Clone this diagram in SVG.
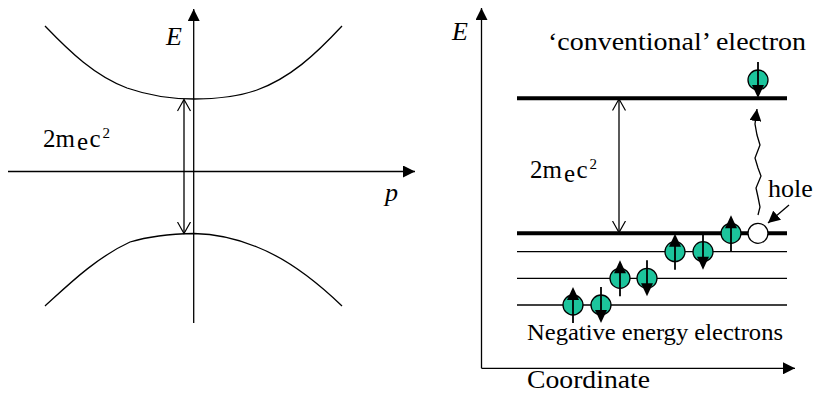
<svg xmlns="http://www.w3.org/2000/svg" xmlns:xlink="http://www.w3.org/1999/xlink" width="817" height="396" viewBox="0 0 817 396">
<style>
  .ln { stroke: #000; fill: none; stroke-width: 1.3; }
  .thick { stroke: #000; stroke-width: 4; }
  .thin { stroke: #000; stroke-width: 1.3; }
  text { font-family: 'Liberation Serif', 'DejaVu Serif', serif; fill: #000; }
  .it { font-style: italic; }
  .el { fill: #1cc49c; stroke: #000; stroke-width: 1.3; }
</style>
<defs>
  <marker id="tri" viewBox="0 0 12 12" refX="12" refY="6" markerWidth="12" markerHeight="12" markerUnits="userSpaceOnUse" orient="auto">
    <path d="M0,0 L12,6 L0,12 z" fill="#000"/>
  </marker>
  <marker id="vee" viewBox="0 0 13 15" refX="12" refY="7.5" markerWidth="13" markerHeight="15" markerUnits="userSpaceOnUse" orient="auto-start-reverse">
    <path d="M0.5,1 L12,7.5 L0.5,14" fill="none" stroke="#000" stroke-width="1.2"/>
  </marker>
  <g id="eUp">
    <circle class="el" r="10"/>
    <line x1="0" y1="-8" x2="0" y2="18" stroke="#000" stroke-width="1.8"/>
    <polygon points="0,-18 -6,-5 6,-5" fill="#000"/>
  </g>
  <g id="eDown">
    <circle class="el" r="10"/>
    <line x1="0" y1="-18" x2="0" y2="8" stroke="#000" stroke-width="1.8"/>
    <polygon points="0,18 -6,5 6,5" fill="#000"/>
  </g>
</defs>

<!-- LEFT PANEL -->
<g id="left-axes">
  <line class="ln" x1="193.7" y1="323" x2="193.7" y2="9" marker-end="url(#tri)"/>
  <line class="ln" x1="8" y1="171.5" x2="415" y2="171.5" marker-end="url(#tri)"/>
</g>
<g id="left-curves">
  <path class="ln" d="M45,26 C70,52 95,76 127,88 C150,96 170,99 194,99 C218,99 240,96 257,90 C290,78 315,55 342,26"/>
  <path class="ln" d="M45,306 C65,288 95,258 130,242 C150,236 170,234 194,233.5 C220,234 240,240 257,247 C285,258 315,280 342,306"/>
</g>
<g id="left-connectors">
  <line class="ln" x1="184" y1="99.5" x2="184" y2="233.5" marker-start="url(#vee)" marker-end="url(#vee)"/>
</g>
<g id="left-labels">
  <text class="it" x="166" y="45" font-size="26" font-family="Liberation Serif, serif">E</text>
  <text class="it" x="385" y="201" font-size="26" font-family="Liberation Serif, serif">p</text>
  <text font-size="25" font-family="Liberation Serif, serif"><tspan x="43" y="146.7">2m</tspan><tspan x="77" y="150.2">e</tspan><tspan x="89.5" y="146.7">c</tspan><tspan x="102.5" y="137.8" font-size="15">2</tspan></text>
</g>

<!-- RIGHT PANEL -->
<g id="right-axes">
  <line class="ln" x1="481.5" y1="368.3" x2="481.5" y2="8" marker-end="url(#tri)"/>
  <line class="ln" x1="481.5" y1="368.3" x2="795" y2="368.3" marker-end="url(#tri)"/>
</g>
<g id="levels">
  <line class="thick" x1="517" y1="98.3" x2="787" y2="98.3"/>
  <line class="thick" x1="517" y1="233.3" x2="787" y2="233.3"/>
  <line class="thin" x1="517" y1="251.7" x2="787" y2="251.7"/>
  <line class="thin" x1="517" y1="278.3" x2="787" y2="278.3"/>
  <line class="thin" x1="517" y1="305" x2="787" y2="305"/>
</g>
<g id="right-connectors">
  <line class="ln" x1="619" y1="99" x2="619" y2="232.5" marker-start="url(#vee)" marker-end="url(#vee)"/>
  <polyline class="ln" points="758,215 760,207 758,197 756,188 761,176 758,168 755,158 760,145 757,135 755,124 757,109" marker-end="url(#tri)"/>
  <line class="ln" x1="789" y1="205" x2="768" y2="223" marker-end="url(#tri)"/>
</g>
<g id="electron-conventional"><use xlink:href="#eDown" x="758" y="80"/></g>
<g id="electron-1"><use xlink:href="#eUp" x="573" y="305"/></g>
<g id="electron-2"><use xlink:href="#eDown" x="601" y="305"/></g>
<g id="electron-3"><use xlink:href="#eUp" x="620" y="278.3"/></g>
<g id="electron-4"><use xlink:href="#eDown" x="647" y="278.3"/></g>
<g id="electron-5"><use xlink:href="#eUp" x="675" y="251.7"/></g>
<g id="electron-6"><use xlink:href="#eDown" x="703" y="251.7"/></g>
<g id="electron-7"><use xlink:href="#eUp" x="731" y="233.3"/></g>
<g id="hole"><circle cx="758" cy="233.3" r="10" fill="#fff" stroke="#000" stroke-width="1.3"/></g>
<g id="right-labels">
  <text class="it" x="452" y="40" font-size="26" font-family="Liberation Serif, serif">E</text>
  <text x="548" y="50" font-size="26" font-family="Liberation Serif, serif" textLength="258" lengthAdjust="spacingAndGlyphs">‘conventional’ electron</text>
  <text font-size="25" font-family="Liberation Serif, serif"><tspan x="530" y="178.3">2m</tspan><tspan x="564" y="181.8">e</tspan><tspan x="576.5" y="178.3">c</tspan><tspan x="589.5" y="169.4" font-size="15">2</tspan></text>
  <text x="768" y="197" font-size="26" font-family="Liberation Serif, serif">hole</text>
  <text x="527" y="340" font-size="23" font-family="Liberation Serif, serif" textLength="256" lengthAdjust="spacingAndGlyphs">Negative energy electrons</text>
  <text x="527" y="388" font-size="26" font-family="Liberation Serif, serif" textLength="123" lengthAdjust="spacingAndGlyphs">Coordinate</text>
</g>
</svg>
